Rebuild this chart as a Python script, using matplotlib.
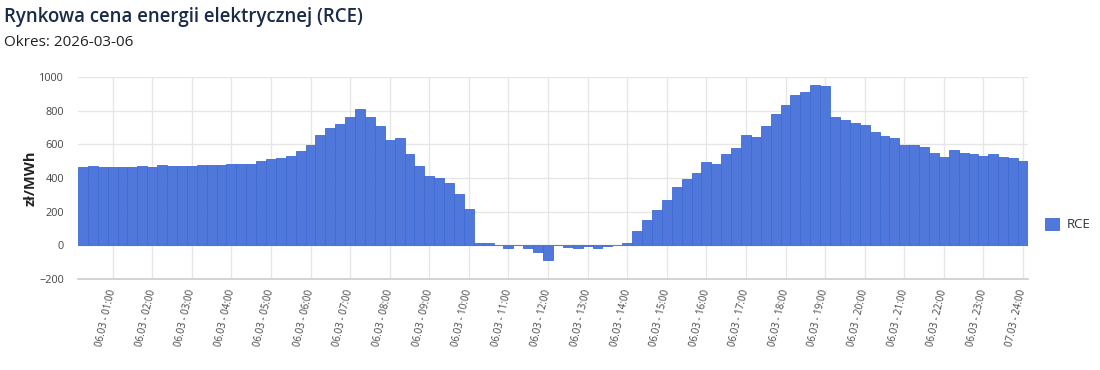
import numpy as np
import matplotlib
matplotlib.use("Agg")
import matplotlib.pyplot as plt

plt.rcParams['font.family'] = ['Open Sans', 'DejaVu Sans']

# RCE price, 15-minute intervals (zl/MWh)
rce = [463, 471, 467, 467, 467, 467, 471, 467, 477, 471, 471, 471,
       475, 475, 475, 485, 485, 485, 503, 513, 517, 531, 560, 598,
       657, 694, 720, 761, 807, 763, 708, 627, 639, 540, 473, 414,
       400, 371, 304, 217, 14, 14, 1, -18, 4, -14, -39, -85,
       -1, -12, -18, -2, -18, -2, 4, 16, 87, 152, 209, 272,
       347, 396, 432, 497, 483, 544, 580, 655, 645, 710, 779, 832,
       892, 911, 951, 945, 761, 744, 724, 714, 671, 651, 637, 598,
       598, 582, 550, 527, 568, 550, 544, 533, 544, 527, 519, 501]

hours = list(range(1, 25))
tick_labels = ["06.03 - %02d:00" % h for h in hours[:-1]] + ["07.03 - 24:00"]

fig = plt.figure(figsize=(11, 3.7), dpi=100)
ax = fig.add_axes([0.0709, 0.246, 0.8636, 0.546])

x = np.arange(len(rce))
ax.bar(x, rce, width=1.0, color='#4f78da', edgecolor='#3f6bd6', linewidth=0.6,
       label='RCE', zorder=3)

ax.set_xlim(-0.5, len(rce) - 0.5)
ax.set_ylim(-200, 1000)
ax.set_yticks([-200, 0, 200, 400, 600, 800, 1000])

tick_pos = [h * 4 - 1 for h in hours]
ax.set_xticks(tick_pos)
ax.set_xticklabels(tick_labels, rotation=77, ha='right', va='center',
                   rotation_mode='anchor', fontsize=7, color='#444444')
ax.tick_params(axis='x', length=0, pad=8)
ax.tick_params(axis='y', length=0, pad=10, labelsize=7.8, labelcolor='#444444')

ax.grid(True, color='#e6e6e6', linewidth=1, zorder=0)
ax.axhline(0, color='#e6e6e6', linewidth=1, zorder=1)
for s in ['top', 'right', 'left']:
    ax.spines[s].set_visible(False)
ax.spines['bottom'].set_color('#cccccc')
ax.spines['bottom'].set_linewidth(1.2)

ax.set_ylabel('zł/MWh', fontsize=10.5, fontweight='bold', color='#222222')
ax.yaxis.set_label_coords(-0.043, 0.5)

fig.text(0.004, 0.955, 'Rynkowa cena energii elektrycznej (RCE)', fontsize=13.4,
         fontweight='semibold', color='#1b2a4a', va='center')
fig.text(0.004, 0.885, 'Okres: 2026-03-06', fontsize=11, color='#222222', va='center')

leg = ax.legend(loc='center left', bbox_to_anchor=(1.005, 0.27), frameon=False,
                fontsize=9.5, handlelength=1.1, handleheight=1.1, handletextpad=0.6)
for t in leg.get_texts():
    t.set_color('#333333')

fig.savefig('out.png', dpi=100)
